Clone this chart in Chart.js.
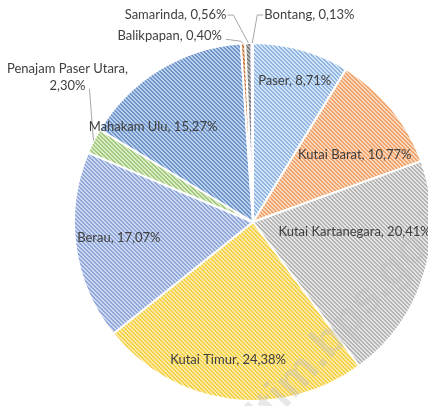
<!DOCTYPE html>
<html>
<head>
<meta charset="utf-8">
<script src="https://cdn.jsdelivr.net/npm/chart.js@4.4.0/dist/chart.umd.min.js"></script>
<style>
  html, body { margin: 0; padding: 0; background: #fff; overflow: hidden; }
</style>
</head>
<body>
<canvas id="myChart" width="440" height="406"></canvas>
<script>
// data
const regions = ['Paser', 'Kutai Barat', 'Kutai Kartanegara', 'Kutai Timur', 'Berau',
    'Penajam Paser Utara', 'Mahakam Ulu', 'Balikpapan', 'Samarinda', 'Bontang'];
const shares = [8.71, 10.77, 20.41, 24.38, 17.07, 2.30, 15.27, 0.40, 0.56, 0.13];

// hatch colours: [stripe, ground]
const hatch = [
    ['#8db4e2', '#d6e6f5'],
    ['#f1a36b', '#fbd9bf'],
    ['#b3b3b3', '#e6e6e6'],
    ['#f5cf45', '#fcecaa'],
    ['#8ea6d9', '#cfdaf0'],
    ['#a3c97d', '#dcebc8'],
    ['#6f96cc', '#bcd0ea'],
    ['#c0733a', '#e8bd9a'],
    ['#7a7a7a', '#b8b8b8'],
    ['#a88b2c', '#d9c27a']
];

function makeHatch(stripe, ground) {
    const c = document.createElement('canvas');
    c.width = 4;
    c.height = 4;
    const g = c.getContext('2d');
    g.fillStyle = ground;
    g.fillRect(0, 0, 4, 4);
    g.fillStyle = stripe;
    for (let i = 0; i < 4; i++) {
        g.fillRect(i, i, 1, 1);
        g.fillRect((i + 1) % 4, i, 1, 1);
    }
    return g.createPattern(c, 'repeat');
}

const fmt = v => v.toFixed(2).replace('.', ',') + '%';

// label placement: inside ones as [angle deg, radius fraction] from the centre
const inside = {
    0: [-73.5, 0.82],
    1: [-33.3, 0.68],
    2: [5.6, 0.57],
    3: [100.3, 0.78],
    4: [173.2, 0.755],
    6: [223.5, 0.77]
};
// outside ones: offsets from the slice edge (elbow, text)
const outside = {
    5: {elbow: [-2, -30], text: [-26, -72], align: 'center', end: [-4, -52]},
    7: {elbow: [-2, -2], text: [-21, -7], align: 'right', end: [-17, -4]},
    8: {elbow: [-15, -28], text: [-22, -28], align: 'right', end: [-21, -28]},
    9: {elbow: [5, -28], text: [12, -28], align: 'left', end: [11, -28]}
};

const labelPlugin = {
    id: 'sliceLabels',
    afterDatasetsDraw(chart) {
        const ctx = chart.ctx;
        const meta = chart.getDatasetMeta(0);
        ctx.save();
        ctx.font = '13px Lato';
        ctx.fillStyle = '#404040';
        ctx.textBaseline = 'middle';
        meta.data.forEach((arc, i) => {
            const p = arc.getProps(['x', 'y', 'startAngle', 'endAngle', 'outerRadius'], true);
            const txt = regions[i] + ', ' + fmt(shares[i]);
            if (inside[i]) {
                const a = inside[i][0] * Math.PI / 180;
                const r = inside[i][1] * p.outerRadius;
                ctx.textAlign = 'center';
                ctx.fillText(txt, p.x + Math.cos(a) * r, p.y + Math.sin(a) * r);
            } else if (outside[i]) {
                const o = outside[i];
                const mid = (p.startAngle + p.endAngle) / 2;
                const ex = p.x + Math.cos(mid) * p.outerRadius;
                const ey = p.y + Math.sin(mid) * p.outerRadius;
                ctx.strokeStyle = '#a6a6a6';
                ctx.lineWidth = 1;
                ctx.beginPath();
                ctx.moveTo(ex, ey);
                if (i !== 5) ctx.lineTo(ex + o.elbow[0], ey + o.elbow[1]);
                ctx.lineTo(ex + o.end[0], ey + o.end[1]);
                ctx.stroke();
                ctx.textAlign = o.align;
                if (i === 5) {
                    ctx.fillText(regions[i] + ',', ex + o.text[0], ey + o.text[1]);
                    ctx.fillText(fmt(shares[i]), ex + o.text[0], ey + o.text[1] + 17);
                } else {
                    ctx.fillText(txt, ex + o.text[0], ey + o.text[1]);
                }
            }
        });
        // faint watermark
        ctx.translate(340, 330);
        ctx.rotate(-48 * Math.PI / 180);
        ctx.font = 'bold 46px "Liberation Sans"';
        ctx.fillStyle = 'rgba(190,190,190,0.35)';
        ctx.textAlign = 'center';
        ctx.fillText('kaltim.bps.go.id', 0, 0);
        ctx.restore();
    }
};

const ctx = document.getElementById('myChart');

new Chart(ctx, {
    type: 'pie',
    data: {
        labels: regions,
        datasets: [{
            data: shares,
            backgroundColor: hatch.map(h => makeHatch(h[0], h[1])),
            borderColor: '#ffffff',
            borderWidth: 2
        }]
    },
    options: {
        responsive: false,
        animation: false,
        layout: {
            padding: {left: 73, right: 7, top: 42, bottom: 4}
        },
        plugins: {
            legend: {display: false},
            tooltip: {enabled: false}
        }
    },
    plugins: [labelPlugin]
});
</script>
</body>
</html>
